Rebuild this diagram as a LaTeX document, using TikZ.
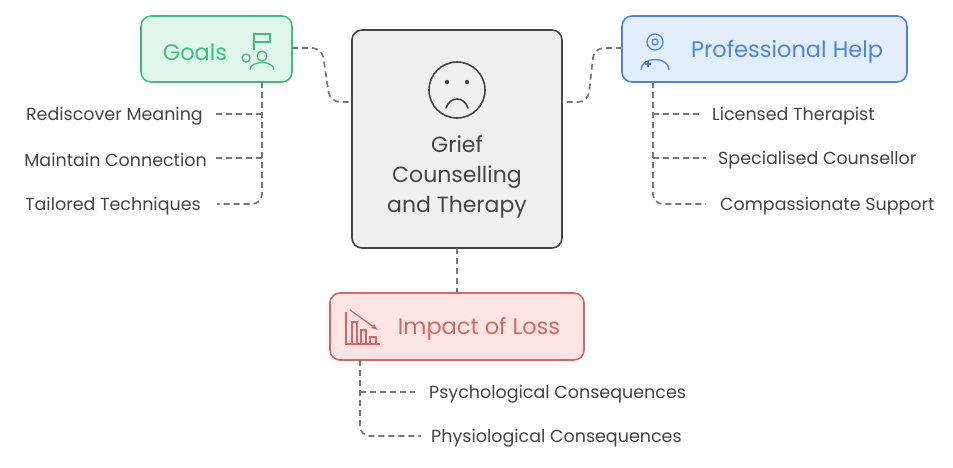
\documentclass[tikz,border=0pt]{standalone}
\usepackage{fontspec}
\setmainfont{Poppins}
\definecolor{gfill}{HTML}{E1F6EA}\definecolor{gdraw}{HTML}{3FBF7F}
\definecolor{bfill}{HTML}{E3EEFD}\definecolor{bdraw}{HTML}{4A86E0}
\definecolor{rfill}{HTML}{FDE5E4}\definecolor{rdraw}{HTML}{E06361}
\definecolor{cfill}{HTML}{EFEFEF}\definecolor{cdraw}{HTML}{444444}
\definecolor{lk}{HTML}{777777}\definecolor{tx}{HTML}{444444}
\tikzset{
 box/.style={rounded corners=10pt,line width=1.6pt},
 con/.style={draw=lk,dashed,dash pattern=on 6pt off 4pt,line width=1.7pt,rounded corners=10pt},
 item/.style={text=tx,font=\fontsize{17.5}{20}\selectfont,inner sep=0pt},
}
\begin{document}
\begin{tikzpicture}[x=1pt,y=-1pt]
\useasboundingbox (0,0) rectangle (953,467);
% boxes
\draw[box,fill=cfill,draw=cdraw] (352,30) rectangle (562,248);
\node[text=tx,align=center,font=\fontsize{22}{30}\selectfont] (ct) at (457,177) {Grief\\Counselling\\and Therapy};
\draw[cdraw,line width=1.6pt] (457,90) circle (28);
\fill[cdraw] (447,82) circle (2.2) (467,82) circle (2.2);
\draw[cdraw,line width=1.6pt,line cap=round] (446,108) .. controls (450,96) and (464,96) .. (468,108);
\draw[box,fill=gfill,draw=gdraw] (141,16) rectangle (292,82);
\node[text=gdraw,font=\fontsize{22.5}{26}\selectfont] (g) at (195,52) {Goals};
\begin{scope}[gdraw,line width=1.3pt]
\draw (262,56) circle (5); \draw (250,70) .. controls (250,60) and (274,60) .. (274,70);
\draw (246,58) circle (4); \draw (254,34) -- (254,50); \draw (254,34) rectangle (270,42);
\end{scope}
\draw[box,fill=bfill,draw=bdraw] (622,16) rectangle (907,82);
\node[text=bdraw,font=\fontsize{22.5}{26}\selectfont] (p) at (787,52) {Professional Help};
\begin{scope}[bdraw,line width=1.3pt]
\draw (655,42) circle (8); \draw (655,42) circle (3);
\draw (641,70) .. controls (641,56) and (669,56) .. (669,70);
\draw (645,64) -- (651,64) (648,61) -- (648,67);
\end{scope}
\draw[box,fill=rfill,draw=rdraw] (330,293) rectangle (584,360);
\node[text=rdraw,font=\fontsize{22.5}{26}\selectfont] (l) at (479,329) {Impact of Loss};
\begin{scope}[rdraw,line width=1.3pt]
\draw (346,312) -- (346,344) -- (380,344);
\draw (352,344) -- (352,322) -- (357,322) -- (357,344) (361,344) -- (361,330) -- (366,330) -- (366,344) (370,344) -- (370,337) -- (376,337) -- (376,344);
\draw[-latex] (350,310) -- (378,330);
\end{scope}
% connectors
\coordinate (gr) at (292,48); \coordinate (cl) at (352,102);
\draw[con] (gr) -- (322,48) -- (330,102) -- (cl);
\coordinate (pl) at (622,48); \coordinate (cr) at (562,102);
\draw[con] (pl) -- (594,48) -- (588,102) -- (cr);
\coordinate (cb) at (457,248); \coordinate (lt) at (457,293);
\draw[con] (cb) -- (lt);
% goals list
\node[item,anchor=east] (g1) at (203,116) {Rediscover Meaning};
\node[item,anchor=east] (g2) at (207,160) {Maintain Connection};
\node[item,anchor=east] (g3) at (201,206) {Tailored Techniques};
\coordinate (gb) at (262,82);
\draw[con] (gb) -- (262,204) -- ([xshift=16pt,yshift=2pt]g3.east);
\draw[con] (262,114) -- ([xshift=12pt,yshift=2pt]g1.east);
\draw[con] (262,158) -- ([xshift=8pt,yshift=2pt]g2.east);
% professional list
\node[item,anchor=west] (p1) at (712,116) {Licensed Therapist};
\node[item,anchor=west] (p2) at (718,160) {Specialised Counsellor};
\node[item,anchor=west] (p3) at (720,206) {Compassionate Support};
\coordinate (pb) at (653,82);
\draw[con] (pb) -- (653,204) -- ([xshift=-14pt,yshift=2pt]p3.west);
\draw[con] (653,114) -- ([xshift=-10pt,yshift=2pt]p1.west);
\draw[con] (653,158) -- ([xshift=-12pt,yshift=2pt]p2.west);
% loss list
\node[item,anchor=west] (l1) at (429,394) {Psychological Consequences};
\node[item,anchor=west] (l2) at (431,438) {Physiological Consequences};
\coordinate (lb) at (360,360);
\draw[con] (lb) -- (360,436) -- ([xshift=-10pt,yshift=2pt]l2.west);
\draw[con] (360,392) -- ([xshift=-14pt,yshift=2pt]l1.west);
\end{tikzpicture}
\end{document}
